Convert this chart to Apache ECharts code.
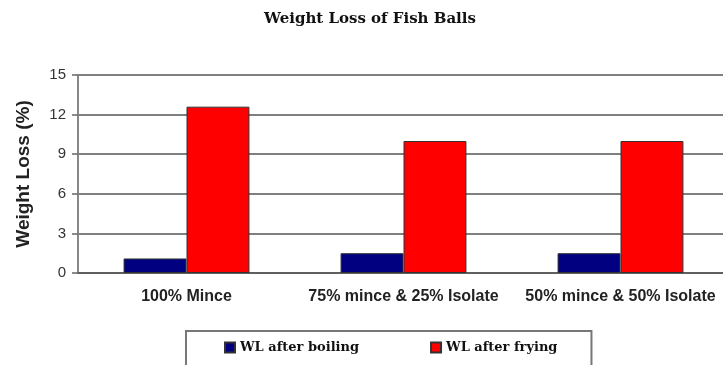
<!DOCTYPE html>
<html><head><meta charset="utf-8">
<script src="https://cdn.jsdelivr.net/npm/echarts@6/dist/echarts.min.js"></script>
<style>html,body{margin:0;padding:0;background:#fff;overflow:hidden}#c{width:740px;height:365px}</style>
</head><body><div id="c"></div>
<script>
const categories = ['100% Mince', '75% mince & 25% Isolate', '50% mince & 50% Isolate'];
const wlBoiling = [1.1, 1.5, 1.5];
const wlFrying = [12.6, 10.0, 10.0];
const seriesNames = ['WL after boiling', 'WL after frying'];

const chart = echarts.init(document.getElementById('c'));
chart.setOption({
  animation: false,
  backgroundColor: '#fff',
  title: {
    text: 'Weight Loss of Fish Balls',
    left: 365, top: 7, textAlign: 'center',
    textStyle: { fontFamily: 'DejaVu Serif', fontWeight: 'bold', fontSize: 15, color: '#111' }
  },
  legend: {
    left: 186, top: 331,
    padding: [10, 34, 20, 38],
    itemGap: 71,
    itemWidth: 10, itemHeight: 10,
    icon: 'rect',
    borderColor: '#777', borderWidth: 2,
    textStyle: { fontFamily: 'DejaVu Serif', fontWeight: 'bold', fontSize: 13, color: '#111' },
    data: seriesNames
  },
  grid: { left: 78, top: 75, width: 651, height: 198, containLabel: false },
  xAxis: {
    type: 'category', data: categories,
    axisLine: { lineStyle: { color: '#555', width: 1.5 } },
    axisTick: { show: false },
    axisLabel: { interval: 0, fontFamily: 'Liberation Sans', fontWeight: 'bold', fontSize: 16, color: '#222', margin: 16 }
  },
  yAxis: {
    type: 'value', min: 0, max: 15, interval: 3,
    name: 'Weight Loss (%)', nameLocation: 'middle', nameGap: 45, nameRotate: 90,
    nameTextStyle: { fontFamily: 'Liberation Sans', fontWeight: 'bold', fontSize: 19, color: '#222' },
    axisLine: { show: true, lineStyle: { color: '#888', width: 2 } },
    axisTick: { show: true, length: 6, lineStyle: { color: '#666', width: 1.5 } },
    axisLabel: { fontFamily: 'Liberation Sans', fontSize: 15, color: '#333', margin: 12 },
    splitLine: { lineStyle: { color: '#555', width: 1.5 } }
  },
  series: [
    { name: seriesNames[0], type: 'bar', data: wlBoiling, barGap: '0%', barCategoryGap: '42%',
      itemStyle: { color: '#000080', borderColor: '#333', borderWidth: 1 } },
    { name: seriesNames[1], type: 'bar', data: wlFrying, barGap: '0%', barCategoryGap: '42%',
      itemStyle: { color: '#ff0000', borderColor: '#333', borderWidth: 1 } }
  ]
});
</script></body></html>
